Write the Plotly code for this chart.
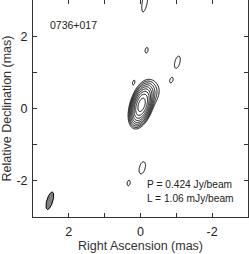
import numpy as np
import plotly.graph_objects as go

# ---- data ----
source_name = "0736+017"
peak_jy = 0.424          # Jy/beam
lowest_mjy = 1.06        # mJy/beam, contours double from here
n_levels = 9

# Gaussian model components (RA, Dec in mas; peak in mJy/beam; sigma in mas; PA deg E of N)
comp_ra   = [-0.03, -0.22, -0.12, -0.17, -1.03, -0.86, 0.19, -0.05, 0.33]
comp_dec  = [0.10, 0.40, 2.95, 1.61, 1.28, 0.78, 0.72, -1.64, -2.06]
comp_peak = [424.0, 6.0, 1.6, 1.3, 1.6, 1.3, 1.3, 1.6, 1.3]
comp_smaj = [0.20, 0.20, 0.31, 0.12, 0.19, 0.11, 0.10, 0.19, 0.12]
comp_smin = [0.094, 0.15, 0.077, 0.063, 0.077, 0.063, 0.045, 0.088, 0.063]
comp_pa   = [-18, -25, -10, -10, -15, -20, -15, -15, -10]

# restoring beam
beam_ra, beam_dec = 2.53, -2.55
beam_major, beam_minor, beam_pa = 0.50, 0.17, -17

x_ticks = [3, 2, 1, 0, -1, -2, -3]
x_ticktext = ["", "2", "", "0", "", "-2", ""]
y_ticks = [-3, -2, -1, 0, 1, 2, 3]
y_ticktext = ["", "-2", "", "0", "", "2", ""]

# ---- image model ----
grid = np.arange(-3.3, 3.31, 0.012)
RA, DEC = np.meshgrid(grid, grid)
img = np.zeros_like(RA)
for ra0, de0, p, sa, sb, pa in zip(comp_ra, comp_dec, comp_peak, comp_smaj, comp_smin, comp_pa):
    t = np.deg2rad(pa)
    dx, dy = RA - ra0, DEC - de0
    u = dx * np.sin(t) + dy * np.cos(t)     # along major
    v = dx * np.cos(t) - dy * np.sin(t)     # along minor
    img += p * np.exp(-0.5 * ((u / sa) ** 2 + (v / sb) ** 2))
z = np.log2(np.clip(img, 1e-6, None) / lowest_mjy)
z = np.round(z, 3)

fig = go.Figure()
fig.add_trace(go.Contour(
    x=np.round(grid, 4), y=np.round(grid, 4), z=z,
    contours=dict(start=0, end=n_levels - 1, size=1, coloring="lines"),
    colorscale=[[0, "black"], [1, "black"]],
    line=dict(width=1), showscale=False, hoverinfo="skip",
))

# beam ellipse
th = np.linspace(0, 2 * np.pi, 80)
t = np.deg2rad(beam_pa)
u = 0.5 * beam_major * np.cos(th)
v = 0.5 * beam_minor * np.sin(th)
bx = beam_ra + u * np.sin(t) + v * np.cos(t)
by = beam_dec + u * np.cos(t) - v * np.sin(t)
fig.add_trace(go.Scatter(x=bx, y=by, mode="lines", fill="toself",
                         fillcolor="#808080", line=dict(color="black", width=1),
                         hoverinfo="skip", showlegend=False))

font = "Liberation Sans, Arial, sans-serif"
axis_common = dict(ticks="inside", ticklen=4, tickcolor="#333", showline=True,
                   linecolor="#333", linewidth=1, mirror="allticks", showgrid=False,
                   zeroline=False, automargin=False,
                   tickfont=dict(size=12.5, color="#222", family=font))
fig.update_xaxes(range=[3, -3], tickvals=x_ticks, ticktext=x_ticktext, ticklabelstandoff=3,
                 title=dict(text="Right Ascension (mas)", font=dict(size=12.5, color="#333", family=font), standoff=1),
                 **axis_common)
fig.update_yaxes(range=[-3, 3], tickvals=y_ticks, ticktext=y_ticktext, ticklabelstandoff=2,
                 title=dict(text="Relative Declination (mas)", font=dict(size=12.5, color="#333", family=font), standoff=2),
                 **axis_common)

fig.add_annotation(x=0.07, y=0.885, xref="paper", yref="paper", text=source_name,
                   showarrow=False, xanchor="left", yanchor="middle",
                   font=dict(size=10.5, color="#222", family=font))
fig.add_annotation(x=0.521, y=0.152, xref="paper", yref="paper",
                   text=f"P = {peak_jy:.3f} Jy/beam", showarrow=False,
                   xanchor="left", yanchor="middle", font=dict(size=10.2, color="#222", family=font))
fig.add_annotation(x=0.521, y=0.083, xref="paper", yref="paper",
                   text=f"L = {lowest_mjy:.2f} mJy/beam", showarrow=False,
                   xanchor="left", yanchor="middle", font=dict(size=10.2, color="#222", family=font))

fig.update_layout(width=249, height=254, margin=dict(l=33, r=1, t=0, b=37),
                  paper_bgcolor="white", plot_bgcolor="white", showlegend=False)
fig.write_html("out.html", config={"displayModeBar": False},
               post_script="document.body.style.margin='0';document.body.style.padding='0';")
